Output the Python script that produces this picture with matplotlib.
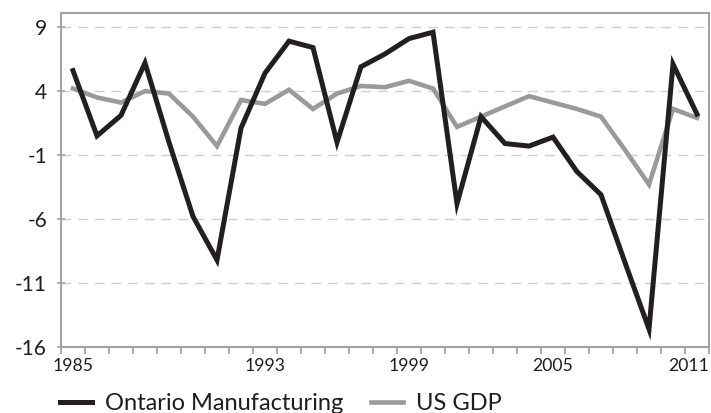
import numpy as np
import matplotlib
matplotlib.use('Agg')
import matplotlib.pyplot as plt
import matplotlib.transforms as mtransforms
from matplotlib.ticker import FixedLocator

plt.rcParams['font.family'] = ['Lato', 'DejaVu Sans']
plt.rcParams['axes.unicode_minus'] = False

# data
years = list(range(1985, 2012))
ontario_mfg = [5.6, 0.5, 2.1, 6.2, 0.0, -5.8, -9.2, 1.1, 5.4, 7.9, 7.4, 0.0,
               5.9, 6.9, 8.1, 8.6, -4.8, 2.0, -0.1, -0.3, 0.4, -2.3, -4.1,
               -9.4, -14.6, 6.1, 2.2]
us_gdp = [4.2, 3.5, 3.1, 4.0, 3.8, 2.0, -0.3, 3.3, 3.0, 4.1, 2.6, 3.8,
          4.4, 4.3, 4.8, 4.2, 1.2, 2.0, 2.8, 3.6, 3.1, 2.6, 2.0,
          -0.6, -3.3, 2.6, 1.9]
yticks = [9, 4, -1, -6, -11, -16]
xlabels = [1985, 1993, 1999, 2005, 2011]

black = '#231f20'
grey = '#999a9c'
axis_grey = '#a3a3a3'
text_col = '#1e1e1e'

fig = plt.figure(figsize=(7.11, 4.13), dpi=100)
ax = fig.add_axes([61/711, 1-347/413, 648/711, 334/413])

ax.plot(years, us_gdp, color=grey, lw=3.3, solid_joinstyle='miter', label='US GDP', zorder=3)
ax.plot(years, ontario_mfg, color=black, lw=3.6, solid_joinstyle='miter', label='Ontario Manufacturing', zorder=4)

ax.set_xlim(years[0] - 0.5, years[-1] + 0.5)
ax.set_ylim(-16, 10.1)

ax.set_yticks(yticks)
ax.set_yticklabels([str(v) for v in yticks])
ax.set_xticks(xlabels)
ax.set_xticklabels([str(v) for v in xlabels])
ax.xaxis.set_minor_locator(FixedLocator(np.arange(years[0] - 0.5, years[-1] + 1, 1)))

ax.tick_params(axis='y', length=6, width=1.2, color=axis_grey, direction='inout', pad=7,
               labelsize=15, labelcolor=text_col)
ax.tick_params(axis='x', which='major', length=0, pad=8, labelsize=12.7, labelcolor=text_col)
ax.tick_params(axis='x', which='minor', length=5, width=1.3, color=axis_grey, direction='out')

# last year label is squeezed in against the right edge
last = ax.get_xticklabels()[-1]
last.set_horizontalalignment('right')
last.set_transform(last.get_transform() + mtransforms.ScaledTranslation(12/100, 0, fig.dpi_scale_trans))

for v in yticks[:-1]:
    ax.axhline(v, color='#d0d0d0', lw=1.0, dashes=(7, 5), zorder=1)

for s in ax.spines.values():
    s.set_color(axis_grey)
    s.set_linewidth(1.5)

handles, labels = ax.get_legend_handles_labels()
leg = fig.legend(handles[::-1], labels[::-1], loc='center left', bbox_to_anchor=(60/711, 1-404/413),
                 ncol=2, frameon=False, fontsize=17, handlelength=1.35, handletextpad=0.55,
                 columnspacing=1.18, borderpad=0, borderaxespad=0)
for t in leg.get_texts():
    t.set_color(text_col)

fig.savefig('out.png', dpi=100)
